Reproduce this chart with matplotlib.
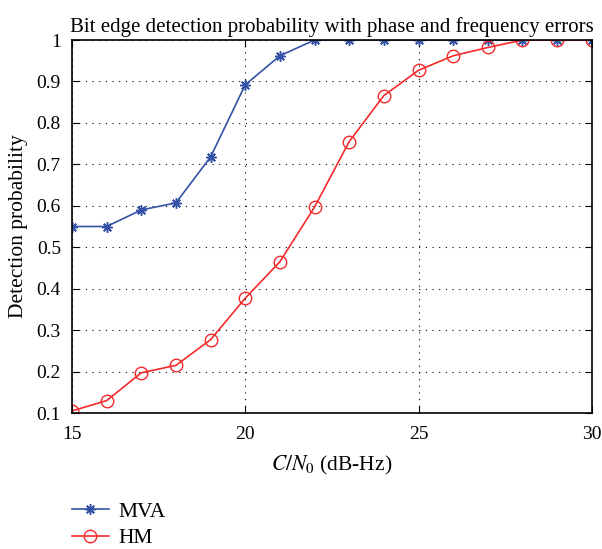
import numpy as np
import matplotlib
matplotlib.use("Agg")
import matplotlib.pyplot as plt

plt.rcParams['font.family'] = ['Liberation Serif', 'DejaVu Serif']
plt.rcParams['mathtext.fontset'] = 'stix'

cn0 = [15, 16, 17, 18, 19, 20, 21, 22, 23, 24, 25, 26, 27, 28, 29, 30]
mva = [0.55, 0.55, 0.59, 0.607, 0.718, 0.892, 0.962, 1.0, 1.0, 1.0, 1.0, 1.0, 1.0, 1.0, 1.0, 1.0]
hm = [0.105, 0.13, 0.197, 0.215, 0.277, 0.377, 0.465, 0.597, 0.755, 0.866, 0.927, 0.962, 0.982, 1.0, 1.0, 1.0]

fig = plt.figure(figsize=(6.02, 5.49), dpi=100)
ax = fig.add_axes([0.1196, 0.2477, 0.8634, 0.6794])

# matlab-like asterisk marker
l1, = ax.plot(cn0, mva, color='#3553a6', marker=(8, 2, 0), markersize=7.5, markeredgewidth=1.1,
              linewidth=1.2, label='MVA')
l2, = ax.plot(cn0, hm, color='#f52a2a', marker='o', markersize=9, markerfacecolor='none',
              markeredgewidth=1.0, linewidth=1.2, label='HM')

ax.set_xlim(15, 30)
ax.set_ylim(0.1, 1.0)
ax.set_xticks([15, 20, 25, 30])
ax.set_yticks(np.arange(0.1, 1.01, 0.1))
ax.set_yticklabels(['0.1', '0.2', '0.3', '0.4', '0.5', '0.6', '0.7', '0.8', '0.9', '1'])
ax.grid(True, color='black', linestyle=(0, (1, 5)), linewidth=0.8)
ax.tick_params(direction='in', top=True, right=True, labelsize=14, length=5)
ax.tick_params(axis='y', pad=8)
ax.tick_params(axis='x', pad=9)
for s in ax.spines.values():
    s.set_linewidth(1.2)

ax.set_title('Bit edge detection probability with phase and frequency errors', fontsize=15, pad=6)
ax.set_xlabel(r'$C/N_0$ (dB-Hz)', fontsize=15.5, labelpad=8)
ax.set_ylabel('Detection probability', fontsize=15.5, labelpad=6)

fig.legend(handles=[l1, l2], loc='upper left', bbox_to_anchor=(0.1196, 0.086), frameon=False,
           fontsize=15.5, handlelength=1.7, handletextpad=0.45, labelspacing=0.3,
           borderpad=0, borderaxespad=0)

fig.savefig('out.png', dpi=100)
